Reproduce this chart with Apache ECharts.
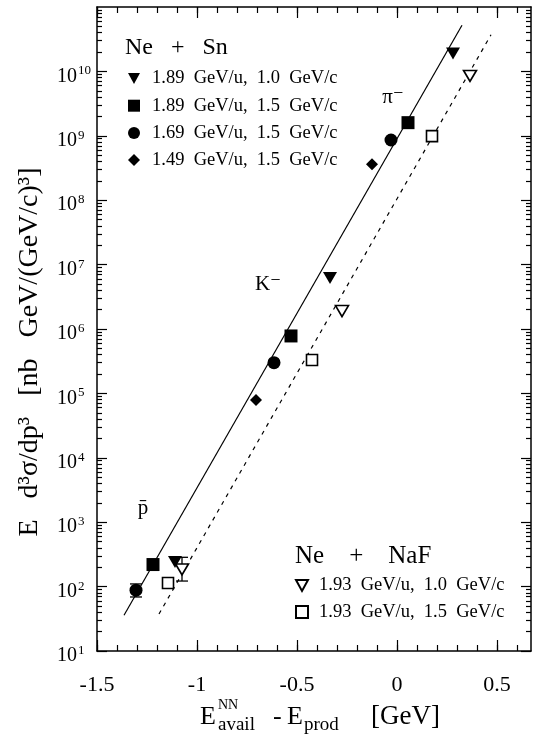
<!DOCTYPE html>
<html><head><meta charset="utf-8">
<script src="https://cdn.jsdelivr.net/npm/echarts@6/dist/echarts.min.js"></script>
<style>html,body{margin:0;padding:0;background:#fff}#c{width:537px;height:742px}</style>
</head><body><div id="c"></div>
<script>
const FONT = '"Liberation Serif","DejaVu Serif",serif';

// ---- data ----
const snLabels = ['1.89  GeV/u,  1.0  GeV/c', '1.89  GeV/u,  1.5  GeV/c', '1.69  GeV/u,  1.5  GeV/c', '1.49  GeV/u,  1.5  GeV/c'];
const nafLabels = ['1.93  GeV/u,  1.0  GeV/c', '1.93  GeV/u,  1.5  GeV/c'];
const sn189p10 = [[-1.11, 240], [-0.335, 6.2e6], [0.28, 1.9e10]];
const sn189p15 = [[-1.22, 220], [-0.53, 7.8e5], [0.055, 1.6e9]];
const sn169p15 = [[-1.305, 88], [-0.615, 3.0e5], [-0.03, 8.6e8]];
const sn149p15 = [[-0.705, 7.9e4], [-0.125, 3.6e8]];
const naf193p10 = [[-1.075, 185], [-0.275, 1.9e6], [0.365, 8.5e9]];
const naf193p15 = [[-1.145, 114], [-0.425, 3.3e5], [0.175, 9.9e8]];
const errorBars = [[-1.305, 69, 110], [-1.075, 122, 285]];
const fitSn = [[-1.365, 36], [0.325, 5.2e10]];
const fitNaF = [[-1.19, 37.5], [0.47, 3.7e10]];
const xMajorTicks = [-1.5, -1, -0.5, 0, 0.5];
const yMajorTicks = [1e1, 1e2, 1e3, 1e4, 1e5, 1e6, 1e7, 1e8, 1e9, 1e10];

const X_MIN = -1.5, X_MAX = 0.67, Y_MIN = 10, Y_MAX = 1e11;

const xMinorTicks = [];
for (let k = -15; k <= 6; k++) xMinorTicks.push(k / 10);
const yMinorTicks = [];
for (let e = 1; e <= 10; e++) for (let m = 2; m <= 9; m++) yMinorTicks.push(m * Math.pow(10, e));

const black = '#000';
const lineOn = { show: true, onZero: false, lineStyle: { color: black, width: 1.5 } };
const lineOff = { show: false, onZero: false };
function xAx(pos, ticks, len, label, line) {
  return {
    type: 'value', position: pos, min: X_MIN, max: X_MAX,
    axisLine: line ? lineOn : lineOff,
    axisTick: { show: true, inside: true, length: len, customValues: ticks, lineStyle: { color: black, width: 1.2 } },
    axisLabel: label ? { show: true, customValues: xMajorTicks, margin: 23, fontFamily: FONT, fontSize: 22, color: black,
      formatter: v => String(v) } : { show: false },
    splitLine: { show: false }
  };
}
function yAx(pos, ticks, len, label, line) {
  return {
    type: 'log', logBase: 10, position: pos, min: Y_MIN, max: Y_MAX,
    axisLine: line ? lineOn : lineOff,
    axisTick: { show: true, inside: true, length: len, customValues: ticks, lineStyle: { color: black, width: 1.2 } },
    axisLabel: label ? {
      show: true, customValues: yMajorTicks, margin: 40, align: 'left', padding: [10, 0, 0, 0],
      formatter: v => '{b|10}{s|' + Math.round(Math.log10(v)) + '}',
      rich: {
        b: { fontFamily: FONT, fontSize: 20, color: black, lineHeight: 24 },
        s: { fontFamily: FONT, fontSize: 13, color: black, verticalAlign: 'top', padding: [0, 0, 0, 1] }
      }
    } : { show: false },
    splitLine: { show: false }
  };
}

const mk = (name, data, symbol, opts) => Object.assign({
  type: 'scatter', name, data, symbol, xAxisIndex: 0, yAxisIndex: 0, z: 5
}, opts);
const solid = { color: black, opacity: 1 };
const open = { color: '#fff', borderColor: black, borderWidth: 1.6, opacity: 1 };

const ICON_DOWN = 'path://M0,0L12,0L6,11Z';
const ICON_DIAMOND = 'path://M6,0L12,6L6,12L0,6Z';
const legendText = { fontFamily: FONT, fontSize: 18.5, color: black };

const option = {
  animation: false,
  backgroundColor: '#fff',
  grid: { left: 97, right: 6, top: 7, bottom: 91, outerBoundsMode: 'none' },
  xAxis: [xAx('bottom', xMajorTicks, 11, true, true), xAx('bottom', xMinorTicks, 6, false, false),
          xAx('top', xMajorTicks, 11, false, true), xAx('top', xMinorTicks, 6, false, false)],
  yAxis: [yAx('left', yMajorTicks, 10, true, true), yAx('left', yMinorTicks, 5, false, false),
          yAx('right', yMajorTicks, 10, false, true), yAx('right', yMinorTicks, 5, false, false)],
  legend: [
    { data: [{ name: snLabels[0], icon: ICON_DOWN }, { name: snLabels[1], icon: 'rect' },
             { name: snLabels[2], icon: 'circle' }, { name: snLabels[3], icon: ICON_DIAMOND }],
      orient: 'vertical', left: 123, top: 64, itemWidth: 12, itemHeight: 12, itemGap: 8.2,
      selectedMode: false, textStyle: Object.assign({ padding: [0, 0, 0, 7] }, legendText) },
    { data: [{ name: nafLabels[0], icon: ICON_DOWN }, { name: nafLabels[1], icon: 'rect' }],
      orient: 'vertical', left: 290, top: 571, itemWidth: 12, itemHeight: 12, itemGap: 7.5,
      selectedMode: false, textStyle: Object.assign({ padding: [0, 0, 0, 6] }, legendText) }
  ],
  series: [
    { type: 'line', data: fitSn, symbol: 'none', lineStyle: { color: black, width: 1.2 }, silent: true, z: 2 },
    { type: 'line', data: fitNaF, symbol: 'none', lineStyle: { color: black, width: 1.2, type: [4, 5] }, silent: true, z: 2 },
    {
      type: 'custom', data: errorBars, z: 4, silent: true,
      encode: { x: 0, y: [1, 2] },
      renderItem: (params, api) => {
        const lo = api.coord([api.value(0), api.value(1)]);
        const hi = api.coord([api.value(0), api.value(2)]);
        const st = { stroke: black, lineWidth: 1.3 };
        return { type: 'group', children: [
          { type: 'line', shape: { x1: lo[0], y1: lo[1], x2: hi[0], y2: hi[1] }, style: st },
          { type: 'line', shape: { x1: lo[0] - 6, y1: lo[1], x2: lo[0] + 6, y2: lo[1] }, style: st },
          { type: 'line', shape: { x1: hi[0] - 6, y1: hi[1], x2: hi[0] + 6, y2: hi[1] }, style: st }
        ] };
      }
    },
    mk(snLabels[0], sn189p10, 'triangle', { symbolRotate: 180, symbolSize: [14, 12], itemStyle: solid }),
    mk(snLabels[1], sn189p15, 'rect', { symbolSize: 13, itemStyle: solid }),
    mk(snLabels[2], sn169p15, 'circle', { symbolSize: 13, itemStyle: solid }),
    mk(snLabels[3], sn149p15, 'diamond', { symbolSize: 12, itemStyle: solid }),
    mk(nafLabels[0], naf193p10, 'triangle', { symbolRotate: 180, symbolSize: [13, 11], itemStyle: open }),
    mk(nafLabels[1], naf193p15, 'rect', { symbolSize: 11, itemStyle: open })
  ],
  graphic: [
    { type: 'text', x: 125, y: 48, style: { text: 'Ne   +   Sn', font: '24px ' + FONT, fill: black, align: 'left', verticalAlign: 'middle' } },
    { type: 'text', x: 295, y: 556, style: { text: 'Ne    +    NaF', font: '25px ' + FONT, fill: black, align: 'left', verticalAlign: 'middle' } },
    { type: 'text', x: 393, y: 97, style: { text: 'π⁻', font: '21px ' + FONT, fill: black, align: 'center', verticalAlign: 'middle' } },
    { type: 'text', x: 268, y: 284, style: { text: 'K⁻', font: '21px ' + FONT, fill: black, align: 'center', verticalAlign: 'middle' } },
    { type: 'text', x: 143, y: 508, style: { text: 'p\u0304', font: '21px ' + FONT, fill: black, align: 'center', verticalAlign: 'middle' } },
    // y-axis title
    { type: 'text', x: 30, y: 352, rotation: Math.PI / 2,
      style: { text: 'E   d³σ/dp³   [nb   GeV/(GeV/c)³]', font: '28px ' + FONT, fill: black, align: 'center', verticalAlign: 'middle' } },
    // x-axis title
    { type: 'text', x: 200, y: 717, style: { text: 'E', font: '26px ' + FONT, fill: black, align: 'left', verticalAlign: 'middle' } },
    { type: 'text', x: 218, y: 705, style: { text: 'NN', font: '14px ' + FONT, fill: black, align: 'left', verticalAlign: 'middle' } },
    { type: 'text', x: 218, y: 725, style: { text: 'avail', font: '19px ' + FONT, fill: black, align: 'left', verticalAlign: 'middle' } },
    { type: 'text', x: 273, y: 717, style: { text: '-', font: '26px ' + FONT, fill: black, align: 'left', verticalAlign: 'middle' } },
    { type: 'text', x: 287, y: 717, style: { text: 'E', font: '26px ' + FONT, fill: black, align: 'left', verticalAlign: 'middle' } },
    { type: 'text', x: 304, y: 725, style: { text: 'prod', font: '19px ' + FONT, fill: black, align: 'left', verticalAlign: 'middle' } },
    { type: 'text', x: 371, y: 717, style: { text: '[GeV]', font: '27px ' + FONT, fill: black, align: 'left', verticalAlign: 'middle' } }
  ]
};

const chart = echarts.init(document.getElementById('c'), null, { renderer: 'canvas' });
chart.setOption(option);
</script>
</body></html>
